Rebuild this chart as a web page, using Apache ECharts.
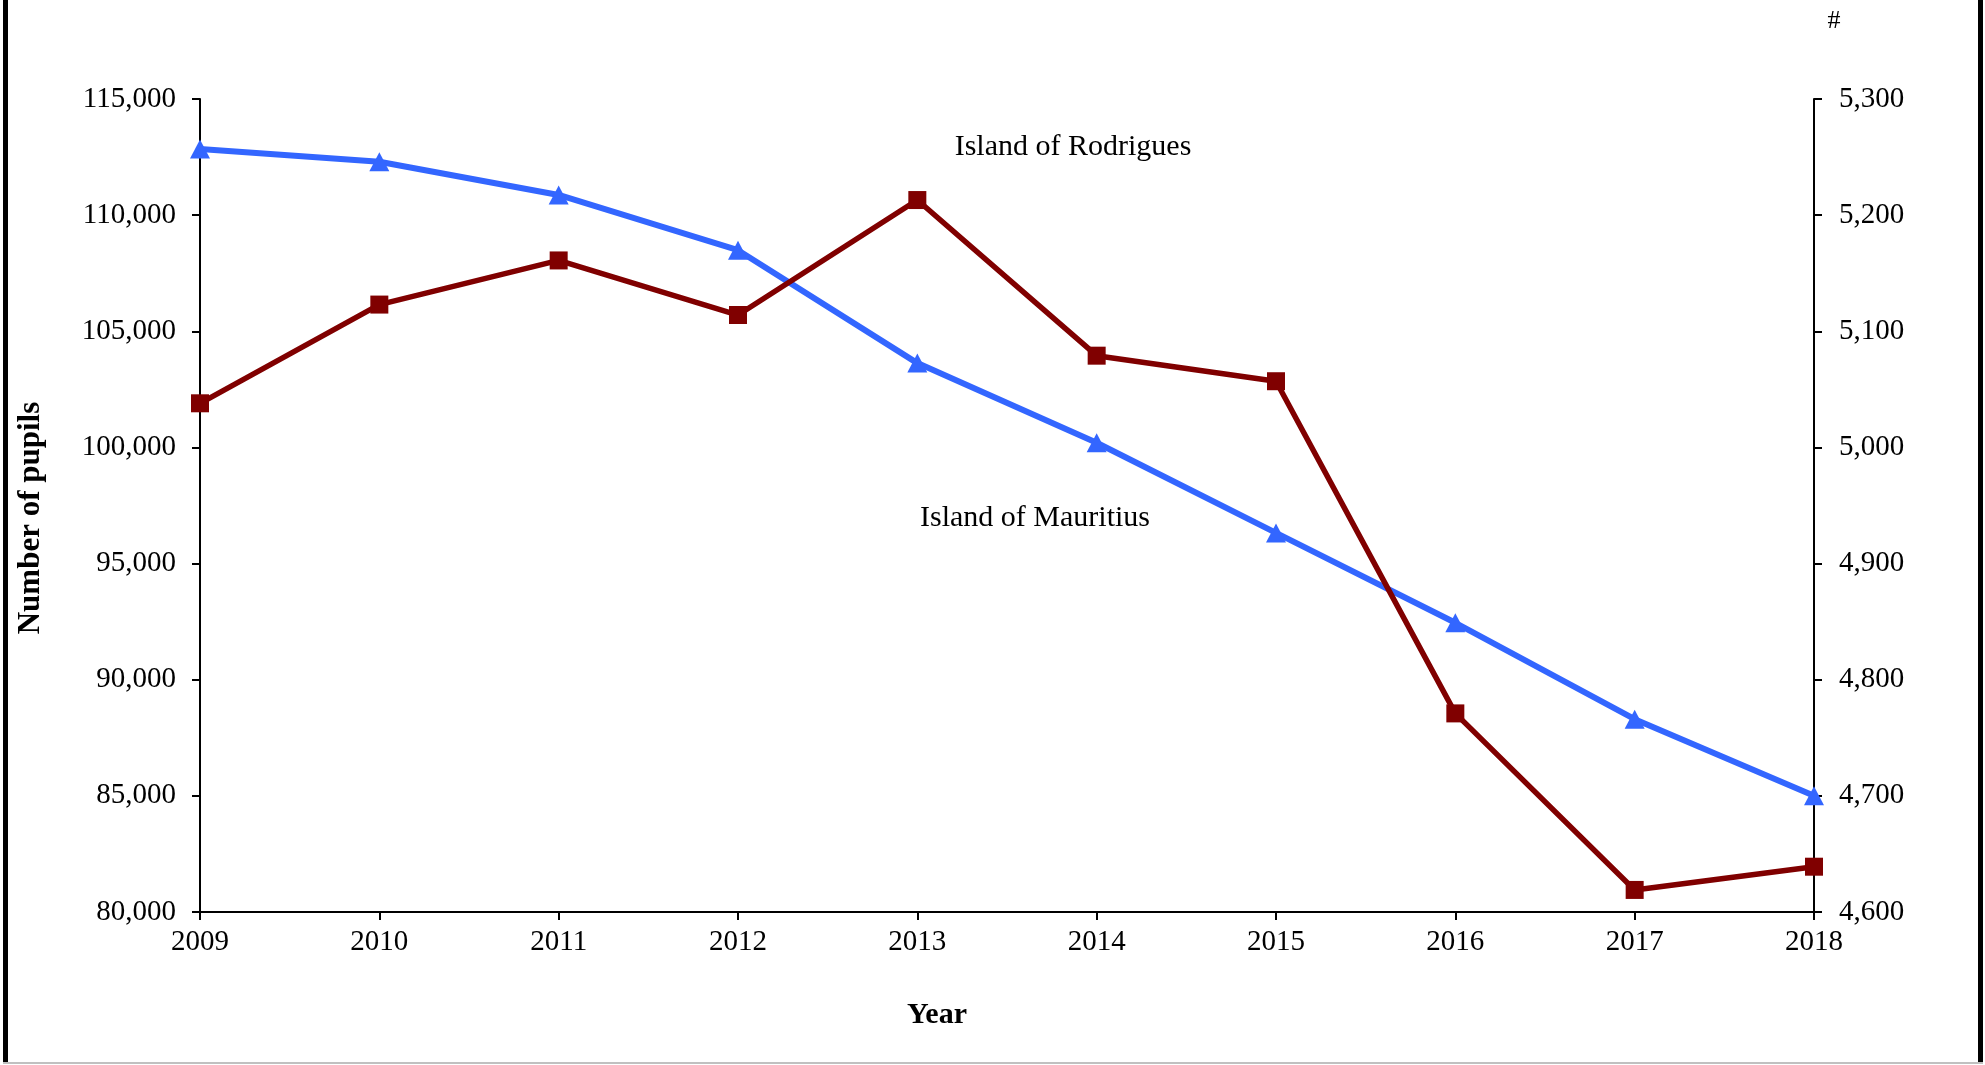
<!DOCTYPE html>
<html>
<head>
<meta charset="utf-8">
<script src="https://cdn.jsdelivr.net/npm/echarts@6/dist/echarts.min.js"></script>
<style>
html,body{margin:0;padding:0;background:#fff;}
#chart{width:1985px;height:1065px;}
</style>
</head>
<body>
<div id="chart"></div>
<script>
var years = ['2009','2010','2011','2012','2013','2014','2015','2016','2017','2018'];
var mauritius = [112850, 112300, 110870, 108490, 103630, 100200, 96320, 92450, 88300, 85000];
var rodrigues = [5038, 5123, 5161, 5114, 5213, 5079, 5057, 4771, 4619, 4639];
var leftAxisRange = [80000, 115000, 5000];
var rightAxisRange = [4600, 5300, 100];
var labelMauritius = 'Island of Mauritius';
var labelRodrigues = 'Island of Rodrigues';
var yTitle = 'Number of pupils';
var xTitle = 'Year';
var rightTitle = '#';

var FONT = '"Liberation Serif", "Times New Roman", serif';
var fmt = function (v) { return Number(v).toLocaleString('en-US'); };

var chart = echarts.init(document.getElementById('chart'), null, {renderer: 'canvas'});
var axisLine = {show: true, lineStyle: {color: '#000', width: 2}};
var axisTick = {show: true, inside: false, length: 8, lineStyle: {color: '#000', width: 2}};

chart.setOption({
  backgroundColor: '#fff',
  animation: false,
  grid: {left: 200, right: 171, top: 99, bottom: 153, containLabel: false, outerBoundsMode: 'none'},
  xAxis: {
    type: 'category',
    data: years,
    boundaryGap: false,
    axisLine: axisLine,
    axisTick: axisTick,
    axisLabel: {color: '#000', fontFamily: FONT, fontSize: 29, margin: 16},
    splitLine: {show: false}
  },
  yAxis: [
    {
      type: 'value',
      position: 'left',
      min: leftAxisRange[0], max: leftAxisRange[1], interval: leftAxisRange[2],
      axisLine: axisLine,
      axisTick: axisTick,
      axisLabel: {color: '#000', fontFamily: FONT, fontSize: 29, margin: 24, formatter: fmt},
      splitLine: {show: false}
    },
    {
      type: 'value',
      position: 'right',
      min: rightAxisRange[0], max: rightAxisRange[1], interval: rightAxisRange[2],
      axisLine: axisLine,
      axisTick: axisTick,
      axisLabel: {color: '#000', fontFamily: FONT, fontSize: 29, margin: 25, formatter: fmt},
      splitLine: {show: false}
    }
  ],
  series: [
    {
      name: labelMauritius,
      type: 'line',
      yAxisIndex: 0,
      data: mauritius,
      symbol: 'triangle',
      symbolSize: [20, 19],
      lineStyle: {color: '#3366FF', width: 6},
      itemStyle: {color: '#3366FF'},
      z: 2
    },
    {
      name: labelRodrigues,
      type: 'line',
      yAxisIndex: 1,
      data: rodrigues,
      symbol: 'rect',
      symbolSize: 18,
      lineStyle: {color: '#800000', width: 5.5},
      itemStyle: {color: '#800000'},
      z: 3
    }
  ],
  graphic: [
    {type: 'text', x: 1073, y: 147, style: {text: labelRodrigues, fill: '#000', font: '30px ' + FONT, textAlign: 'center', textVerticalAlign: 'middle'}},
    {type: 'text', x: 1035, y: 518, style: {text: labelMauritius, fill: '#000', font: '30px ' + FONT, textAlign: 'center', textVerticalAlign: 'middle'}},
    {type: 'text', x: 937, y: 1015, style: {text: xTitle, fill: '#000', font: 'bold 30px ' + FONT, textAlign: 'center', textVerticalAlign: 'middle'}},
    {type: 'text', x: 31, y: 518, rotation: Math.PI / 2, style: {text: yTitle, fill: '#000', font: 'bold 31px ' + FONT, textAlign: 'center', textVerticalAlign: 'middle'}},
    {type: 'text', x: 1834, y: 21, style: {text: rightTitle, fill: '#000', font: '26px ' + FONT, textAlign: 'center', textVerticalAlign: 'middle'}},
    {type: 'rect', shape: {x: 3, y: 0, width: 5, height: 1064}, style: {fill: '#000'}, silent: true},
    {type: 'rect', shape: {x: 1978, y: 0, width: 5, height: 1064}, style: {fill: '#000'}, silent: true},
    {type: 'rect', shape: {x: 3, y: 1062, width: 1980, height: 2}, style: {fill: '#c0c0c0'}, silent: true}
  ]
});
</script>
</body>
</html>
